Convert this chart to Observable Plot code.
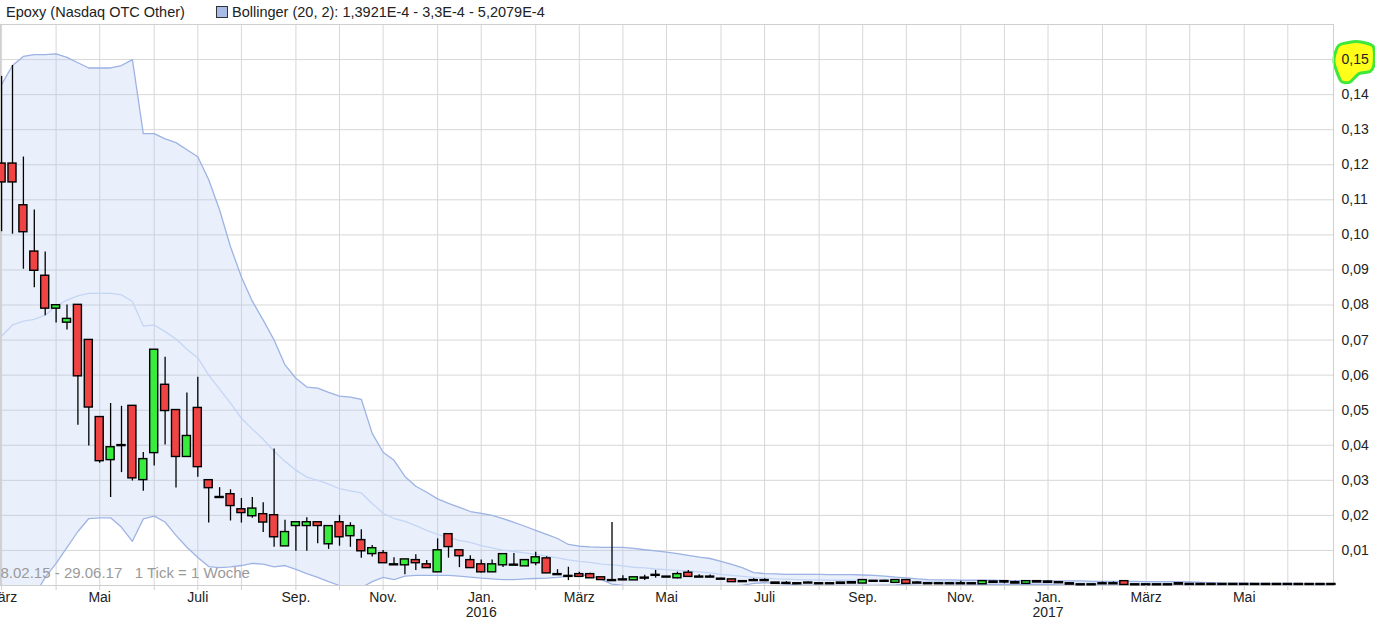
<!DOCTYPE html>
<html><head><meta charset="utf-8">
<script src="https://cdn.jsdelivr.net/npm/d3@7"></script>
<script src="https://cdn.jsdelivr.net/npm/@observablehq/plot@0.6"></script>
<style>
body{margin:0;background:#fff;font-family:"Liberation Sans",Arial,sans-serif;}
#legend{height:23px;position:relative;font-size:14.5px;color:#222;white-space:nowrap;}
#legend span{position:absolute;top:0;line-height:24px;}
#legend .sw{top:6px;width:10px;height:10px;background:#a7bbe6;border:1px solid #333;line-height:0;}
#chart svg{display:block;font-family:"Liberation Sans",Arial,sans-serif;}
</style></head><body>
<div id="legend"><span style="left:6px">Epoxy (Nasdaq OTC Other)</span><span class="sw" style="left:216px"></span><span style="left:232px">Bollinger (20, 2): 1,3921E-4 - 3,3E-4 - 5,2079E-4</span></div>
<div id="chart"></div>
<script>
// weekly candles (week starting Monday), first week 23.02.2015, last week 26.06.2017
const firstWeek = "2015-02-23";
const lastWeek = "2017-06-26";

const openV = [0.1202,0.1202,0.1083,0.0951,0.0882,0.0791,0.0751,0.0799,0.0699,0.0479,
 0.0359,0.0399,0.0511,0.0302,0.0379,0.0571,0.0499,0.0368,0.0505,0.0299,
 0.0251,0.0259,0.0216,0.0199,0.0202,0.0199,0.0113,0.0171,0.0171,0.0179,
 0.0119,0.0179,0.0142,0.0128,0.0091,0.0091,0.0059,0.0059,0.0071,0.0059,
 0.0039,0.0145,0.0099,0.0071,0.0059,0.0039,0.0059,0.0058,0.0056,0.0065,
 0.0076,0.0031,0.0026,0.0031,0.0031,0.0022,0.0014,0.0016,0.0016,0.0021,
 0.0029,0.0024,0.0022,0.0035,0.0024,0.0024,0.0018,0.0016,0.0011,0.0014,
 0.0014,0.0007,0.0006,0.0005,0.0007,0.0005,0.0005,0.0007,0.0008,0.0007,
 0.0012,0.0012,0.0009,0.0014,0.0007,0.0005,0.0005,0.0005,0.0005,0.0005,
 0.0005,0.0010,0.0011,0.0008,0.0006,0.0011,0.0010,0.0008,0.0005,0.0002,
 0.0002,0.0005,0.0005,0.0011,0.0002,0.0002,0.0002,0.0002,0.0005,0.0003,
 0.0003,0.0003,0.0003,0.0003,0.0003,0.0003,0.0003,0.0003,0.0003,0.0003,
 0.0003,0.0003,0.0003];
const highV = [0.1452,0.1483,0.1222,0.1071,0.0951,0.0798,0.0800,0.0799,0.0699,0.0479,
 0.0519,0.0511,0.0511,0.0379,0.0671,0.0651,0.0499,0.0549,0.0594,0.0299,
 0.0279,0.0273,0.0248,0.0251,0.0236,0.0389,0.0186,0.0179,0.0193,0.0179,
 0.0171,0.0200,0.0179,0.0159,0.0114,0.0100,0.0079,0.0073,0.0088,0.0071,
 0.0133,0.0145,0.0099,0.0085,0.0073,0.0073,0.0088,0.0091,0.0071,0.0095,
 0.0082,0.0045,0.0052,0.0038,0.0035,0.0022,0.0180,0.0028,0.0022,0.0029,
 0.0043,0.0024,0.0038,0.0043,0.0031,0.0030,0.0021,0.0016,0.0011,0.0019,
 0.0019,0.0007,0.0011,0.0005,0.0010,0.0005,0.0005,0.0007,0.0008,0.0014,
 0.0012,0.0015,0.0014,0.0014,0.0011,0.0005,0.0005,0.0005,0.0012,0.0005,
 0.0011,0.0010,0.0011,0.0012,0.0011,0.0011,0.0012,0.0010,0.0005,0.0002,
 0.0002,0.0010,0.0010,0.0011,0.0002,0.0002,0.0002,0.0002,0.0005,0.0006,
 0.0006,0.0004,0.0003,0.0004,0.0003,0.0003,0.0004,0.0003,0.0003,0.0004,
 0.0003,0.0003,0.0004];
const lowV = [0.1009,0.1002,0.0902,0.0849,0.0769,0.0749,0.0729,0.0457,0.0398,0.0349,
 0.0251,0.0322,0.0298,0.0269,0.0341,0.0401,0.0278,0.0368,0.0309,0.0178,
 0.0251,0.0184,0.0178,0.0192,0.0151,0.0109,0.0113,0.0098,0.0098,0.0119,
 0.0103,0.0112,0.0109,0.0078,0.0081,0.0065,0.0059,0.0031,0.0043,0.0051,
 0.0039,0.0078,0.0051,0.0051,0.0036,0.0039,0.0051,0.0058,0.0056,0.0056,
 0.0036,0.0031,0.0014,0.0026,0.0022,0.0017,0.0014,0.0016,0.0016,0.0014,
 0.0021,0.0024,0.0019,0.0026,0.0024,0.0024,0.0018,0.0011,0.0011,0.0014,
 0.0014,0.0006,0.0006,0.0005,0.0007,0.0005,0.0005,0.0006,0.0007,0.0007,
 0.0012,0.0010,0.0009,0.0006,0.0007,0.0005,0.0005,0.0005,0.0005,0.0005,
 0.0005,0.0009,0.0005,0.0007,0.0006,0.0010,0.0008,0.0008,0.0004,0.0002,
 0.0002,0.0005,0.0005,0.0003,0.0002,0.0002,0.0002,0.0002,0.0004,0.0002,
 0.0002,0.0002,0.0003,0.0002,0.0003,0.0003,0.0002,0.0003,0.0003,0.0002,
 0.0003,0.0003,0.0002];
const closeV = [0.1151,0.1151,0.1009,0.0899,0.0791,0.0798,0.0759,0.0598,0.0509,0.0356,
 0.0393,0.0399,0.0307,0.0359,0.0671,0.0499,0.0368,0.0425,0.0339,0.0279,
 0.0251,0.0228,0.0208,0.0218,0.0181,0.0139,0.0151,0.0179,0.0179,0.0171,
 0.0168,0.0139,0.0168,0.0099,0.0105,0.0065,0.0059,0.0073,0.0065,0.0051,
 0.0099,0.0111,0.0085,0.0051,0.0039,0.0059,0.0088,0.0058,0.0071,0.0079,
 0.0036,0.0031,0.0026,0.0026,0.0022,0.0017,0.0014,0.0016,0.0022,0.0021,
 0.0029,0.0024,0.0031,0.0026,0.0024,0.0024,0.0018,0.0011,0.0011,0.0014,
 0.0014,0.0006,0.0006,0.0005,0.0007,0.0005,0.0005,0.0006,0.0007,0.0014,
 0.0012,0.0012,0.0014,0.0006,0.0007,0.0005,0.0005,0.0005,0.0005,0.0005,
 0.0011,0.0009,0.0010,0.0007,0.0011,0.0010,0.0009,0.0008,0.0004,0.0002,
 0.0002,0.0005,0.0005,0.0003,0.0002,0.0002,0.0002,0.0002,0.0004,0.0003,
 0.0003,0.0003,0.0003,0.0003,0.0003,0.0003,0.0003,0.0003,0.0003,0.0003,
 0.0003,0.0003,0.0003];
const bollUpper = [0.1429,0.1483,0.1509,0.1514,0.1514,0.1516,0.1506,0.1491,0.1476,0.1476,
 0.1476,0.1483,0.1500,0.1289,0.1289,0.1274,0.1263,0.1243,0.1223,0.1157,
 0.1071,0.0966,0.0880,0.0811,0.0757,0.0700,0.0629,0.0591,0.0566,0.0563,
 0.0551,0.0540,0.0537,0.0531,0.0434,0.0380,0.0357,0.0311,0.0283,0.0266,
 0.0247,0.0234,0.0223,0.0211,0.0206,0.0200,0.0191,0.0180,0.0169,0.0157,
 0.0146,0.0134,0.0117,0.0112,0.0110,0.0109,0.0109,0.0109,0.0106,0.0102,
 0.0099,0.0095,0.0091,0.0086,0.0081,0.0077,0.0069,0.0060,0.0050,0.0037,
 0.0034,0.0033,0.0032,0.0032,0.0032,0.0032,0.0031,0.0031,0.0031,0.0030,
 0.0029,0.0027,0.0024,0.0022,0.0019,0.0017,0.0016,0.0016,0.0015,0.0015,
 0.0015,0.0015,0.0014,0.0014,0.0014,0.0014,0.0013,0.0013,0.0013,0.0013,
 0.0012,0.0012,0.0012,0.0012,0.0012,0.0011,0.0011,0.0011,0.0011,0.0010,
 0.0009,0.0008,0.0007,0.0007,0.0007,0.0006,0.0006,0.0006,0.0006,0.0006,
 0.00055,0.00053,0.00052];
const bollMiddle = [0.0711,0.0743,0.0754,0.0759,0.0771,0.0797,0.0814,0.0826,0.0833,0.0833,
 0.0833,0.0829,0.0810,0.0740,0.0743,0.0724,0.0703,0.0674,0.0649,0.0600,
 0.0560,0.0520,0.0477,0.0446,0.0417,0.0383,0.0354,0.0329,0.0309,0.0300,
 0.0289,0.0276,0.0270,0.0264,0.0234,0.0206,0.0191,0.0183,0.0171,0.0157,
 0.0146,0.0137,0.0129,0.0123,0.0114,0.0107,0.0101,0.0097,0.0093,0.0089,
 0.0084,0.0079,0.0073,0.0069,0.0066,0.0061,0.0059,0.0056,0.0052,0.0050,
 0.0047,0.0045,0.0043,0.0041,0.0039,0.0036,0.0032,0.0029,0.0026,0.0023,
 0.0021,0.0019,0.0018,0.0017,0.0016,0.0016,0.0015,0.0015,0.0015,0.0014,
 0.0014,0.0013,0.0013,0.0013,0.0012,0.0012,0.0011,0.0011,0.0010,0.0009,
 0.0009,0.0009,0.0008,0.0008,0.0008,0.0008,0.0008,0.0007,0.0007,0.0007,
 0.0007,0.0007,0.0007,0.0007,0.0006,0.0006,0.0006,0.0006,0.0006,0.0006,
 0.0006,0.0005,0.0005,0.0005,0.0005,0.0004,0.0004,0.0004,0.0004,0.0004,
 0.00035,0.00034,0.00033];
const bollLower = [-0.0186,-0.0129,-0.0077,-0.0029,0.0023,0.0063,0.0109,0.0154,0.0191,0.0193,
 0.0193,0.0166,0.0126,0.0190,0.0198,0.0181,0.0143,0.0109,0.0080,0.0054,
 0.0051,0.0053,0.0057,0.0063,0.0061,0.0053,0.0057,0.0046,0.0034,0.0023,
 0.0011,0.0000,-0.0009,-0.0006,0.0011,0.0023,0.0017,0.0027,0.0029,0.0029,
 0.0029,0.0029,0.0027,0.0024,0.0021,0.0019,0.0017,0.0017,0.0019,0.0020,
 0.0021,0.0023,0.0026,0.0030,0.0029,0.0017,0.0004,0.0000,-0.0002,-0.0003,
 -0.0004,-0.0005,-0.0005,-0.0004,-0.0003,-0.0004,-0.0004,-0.0002,0.0001,0.0006,
 0.0008,0.0006,0.0004,0.0002,0.0001,0.0000,0.0000,0.0000,0.0000,0.0000,
 0.0000,0.0001,0.0002,0.0004,0.0005,0.0006,0.0006,0.0005,0.0005,0.0004,
 0.0003,0.0003,0.0003,0.0003,0.0003,0.0003,0.0003,0.0002,0.0002,0.0002,
 0.0002,0.0002,0.0002,0.0002,0.0002,0.0002,0.0002,0.0002,0.0002,0.0002,
 0.0003,0.0002,0.0002,0.0002,0.0002,0.0002,0.0002,0.0002,0.0002,0.0002,
 0.00015,0.00014,0.00014];

const yTicks = [0.01,0.02,0.03,0.04,0.05,0.06,0.07,0.08,0.09,0.10,0.11,0.12,0.13,0.14,0.15];
const yGrid = [0.01,0.02,0.03,0.04,0.05,0.06,0.07,0.08,0.09,0.10,0.11,0.12,0.13,0.14,0.15,0.16];
const labelMonths = ["2015-03-01","2015-05-01","2015-07-01","2015-09-01","2015-11-01","2016-01-01",
  "2016-03-01","2016-05-01","2016-07-01","2016-09-01","2016-11-01","2017-01-01","2017-03-01","2017-05-01"];
const labelTexts = ["März","Mai","Juli","Sep.","Nov.","Jan.\n2016","März","Mai","Juli","Sep.","Nov.","Jan.\n2017","März","Mai"];
const rangeText = "8.02.15 - 29.06.17\u00a0\u00a0 1 Tick = 1 Woche";
const highlightValue = 0.15;

// build table
const weeks = d3.utcMonday.range(new Date(firstWeek), d3.utcDay.offset(new Date(lastWeek), 1));
const candles = weeks.map((date, i) => ({
  date, open: openV[i], high: highV[i], low: lowV[i], close: closeV[i],
  upper: bollUpper[i], middle: bollMiddle[i], lower: bollLower[i]
}));
// month grid: the week containing the 1st of each month
const monthTicks = d3.utcMonth.range(new Date("2015-03-01"), new Date("2017-07-01")).map(d => d3.utcMonday.floor(d));
const labelMap = new Map(labelMonths.map((m, i) => [+d3.utcMonday.floor(new Date(m)), labelTexts[i]]));
const labelTicks = labelMonths.map(m => d3.utcMonday.floor(new Date(m)));
const fmt = d3.formatLocale({decimal: ",", thousands: ".", grouping: [3], currency: ["", "€"]}).format(".2f");

const W = 1375, mR = 42;
// visible window: 0.1 week before the first candle to 0.19 week after the last
const x0 = d3.utcHour.offset(new Date(firstWeek), -17);
const x1 = d3.utcHour.offset(new Date(lastWeek), 32);

const RED = "#f04343", GREEN = "#38ec3e";
const gridColor = "#d7d7d7";

const plot = Plot.plot({
  width: W, height: 600,
  marginTop: 1, marginBottom: 38, marginLeft: 0, marginRight: mR,
  style: {fontFamily: "'Liberation Sans', Arial, sans-serif", fontSize: "14px", background: "#fff", overflow: "visible"},
  x: {type: "utc", domain: [x0, x1]},
  y: {domain: [0, 0.16]},
  color: {type: "identity"},
  marks: [
    Plot.gridY(yGrid, {stroke: gridColor, strokeOpacity: 1}),
    Plot.gridX(monthTicks, {stroke: gridColor, strokeOpacity: 1}),
    Plot.areaY(candles, {x: "date", y1: "lower", y2: "upper", fill: "#a9c3f1", fillOpacity: 0.26, clip: true}),
    Plot.lineY(candles, {x: "date", y: "middle", stroke: "#c4d5f6", strokeWidth: 1.3, clip: true}),
    Plot.lineY(candles, {x: "date", y: "upper", stroke: "#9db3e4", strokeWidth: 1.3, clip: true}),
    Plot.lineY(candles, {x: "date", y: "lower", stroke: "#9db3e4", strokeWidth: 1.3, clip: true}),
    Plot.frame({stroke: "#cfcfcf"}),
    Plot.ruleX(candles, {x: "date", y1: "low", y2: "high", stroke: "#000", strokeWidth: 1.3}),
    Plot.rect(candles, {
      x1: d => d3.utcHour.offset(d.date, -62), x2: d => d3.utcHour.offset(d.date, 62),
      y1: d => Math.min(d.open, d.close), y2: d => Math.max(d.open, d.close),
      fill: d => d.close >= d.open ? GREEN : RED, stroke: "#000", strokeWidth: 1.4,
      insetTop: -0.5, insetBottom: -0.5
    }),
    Plot.axisY(yTicks, {anchor: "right", tickSize: 0, tickPadding: 8, tickFormat: fmt, fontSize: 14, fill: "#222"}),
    Plot.axisX(monthTicks, {tickSize: 5, tickFormat: () => "", stroke: "#cfcfcf"}),
    Plot.axisX(labelTicks, {tickSize: 0, tickPadding: 6, tickFormat: d => labelMap.get(+d), fontSize: 14, lineHeight: 1.07, fill: "#222"}),
    Plot.text([rangeText], {frameAnchor: "bottom-left", text: d => d, textAnchor: "start", dx: 0, dy: -8, fill: "#9a9a9a", fontSize: 15})
  ]
});

// hand-drawn highlight round the 0,15 label
const yHi = plot.scale("y").apply(highlightValue);
const xr = W - mR;
const pts = [[8,-15],[24,-17.5],[40,-13],[41,5],[37,12.5],[26,14.5],[17,23],[8,22],[1,3],[4,-11]]
  .map(([dx, dy]) => [xr + dx, yHi + dy]);
d3.select(plot).insert("path", ":first-child")
  .attr("d", d3.line().curve(d3.curveCardinalClosed.tension(0.3))(pts))
  .attr("fill", "#ffff1a").attr("stroke", "#3ee83a").attr("stroke-width", 3);
d3.select(plot).insert("rect", ":first-child").attr("width", W).attr("height", 600).attr("fill", "#fff");

document.getElementById("chart").appendChild(plot);
</script>
</body></html>
